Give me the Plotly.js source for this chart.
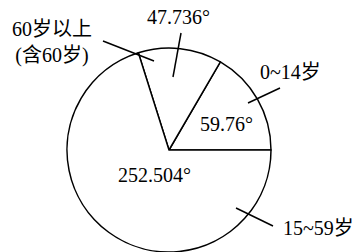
<!DOCTYPE html>
<html>
<head>
<meta charset="utf-8">
<script src="https://cdn.plot.ly/plotly-3.0.1.min.js"></script>
<style>html,body{margin:0;padding:0;overflow:hidden;background:#fff}</style>
</head>
<body>
<div id="chart" style="width:359px;height:252px"></div>
<script>
// Data: age groups and their central angles (degrees)
var categories = ['0~14岁', '60岁以上(含60岁)', '15~59岁'];
var angles = [59.76, 47.736, 252.504];
var angleLabels = ['59.76°', '47.736°', '252.504°'];
var groupLabels = ['0~14岁', '60岁以上<br>(含60岁)', '15~59岁'];

var W = 359, H = 252;
var M = {l: 67, r: 88, t: 48, b: 0};
var pw = W - M.l - M.r, ph = H - M.t - M.b;
function px(x) { return (x - M.l) / pw; }
function py(y) { return 1 - (y - M.t) / ph; }

var font = {family: 'Liberation Serif, Noto Sans CJK SC, serif', size: 20, color: '#000'};

function ann(text, x, y) {
  return {text: text, x: px(x), y: py(y), xref: 'paper', yref: 'paper',
          xanchor: 'center', yanchor: 'middle', showarrow: false, font: font};
}
function seg(x0, y0, x1, y1) {
  return {type: 'line', xref: 'paper', yref: 'paper',
          x0: px(x0), y0: py(y0), x1: px(x1), y1: py(y1),
          line: {color: '#000', width: 1.5}};
}

var total = angles.reduce(function (a, b) { return a + b; }, 0);

var trace = {
  type: 'pie',
  labels: categories,
  values: angles,
  sort: false,
  direction: 'counterclockwise',
  // counterclockwise pies end their first slice at "rotation": start the first slice at 3 o'clock
  rotation: 90 - angles[0] / total * 360,
  textinfo: 'none',
  hoverinfo: 'none',
  marker: {colors: ['#fff', '#fff', '#fff'], line: {color: '#000', width: 1.5}},
  showlegend: false
};

var layout = {
  width: W, height: H,
  margin: M,
  paper_bgcolor: '#fff',
  showlegend: false,
  annotations: [
    ann(angleLabels[0], 226, 124),
    ann(angleLabels[1], 178, 17),
    ann(angleLabels[2], 154, 175),
    ann(groupLabels[0], 290, 72),
    ann(groupLabels[1], 52, 42),
    ann(groupLabels[2], 318, 228)
  ],
  shapes: [
    seg(103, 41, 154, 61),
    seg(181, 33, 173, 77),
    seg(248, 103, 280, 88),
    seg(236, 208, 273, 226)
  ]
};

Plotly.newPlot('chart', [trace], layout, {displayModeBar: false, staticPlot: true});
</script>
</body>
</html>
